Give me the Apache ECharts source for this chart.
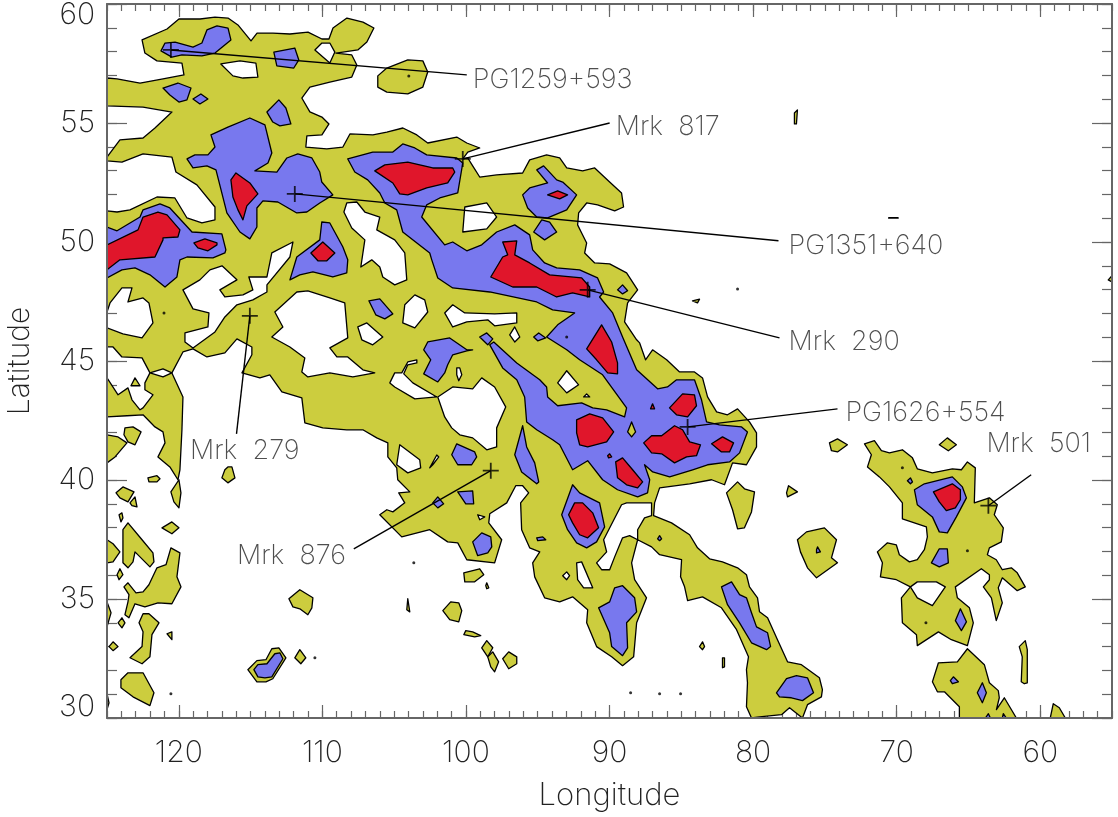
<!DOCTYPE html>
<html><head><meta charset="utf-8">
<script src="https://cdn.jsdelivr.net/npm/echarts@6/dist/echarts.min.js"></script>
<style>html,body{margin:0;background:#fff}#c{width:1118px;height:817px}</style></head>
<body><div id="c"></div>
<script>
const lonTicks=[120,110,100,90,80,70,60];
const latTicks=[30,35,40,45,50,55,60];
const yellowMain=[[119.99,59.37,118.52,59.37,117.48,59.45,116.57,59.41,115.88,59.12,114.97,58.45,114.55,58.78,113.44,58.78,112.26,58.74,111.0,58.82,110.03,58.53,109.54,58.53,109.26,58.99,108.29,59.41,107.17,59.24,106.41,58.99,106.9,58.4,107.53,58.07,108.57,57.98,109.06,57.94,107.95,57.86,107.6,57.44,107.95,56.93,109.48,56.72,110.87,56.51,111.43,56.05,110.87,55.47,110.03,55.25,109.54,54.96,110.03,54.5,111.08,54.46,111.15,53.99,109.69,53.91,108.57,53.99,108.08,54.54,106.48,54.5,105.51,54.62,104.39,54.79,103.42,54.5,102.66,54.16,100.64,54.41,99.94,54.16,99.04,53.95,99.87,53.78,100.22,53.49,99.87,53.53,99.53,53.2,99.04,52.73,97.86,52.82,96.05,52.9,95.56,53.45,94.38,53.66,93.47,53.53,92.98,53.11,91.87,52.99,91.03,53.11,89.99,52.52,89.16,52.06,89.02,51.47,89.64,51.31,90.83,51.56,91.59,51.64,92.15,51.22,92.22,50.72,91.94,50.38,91.59,49.96,91.73,49.54,91.03,49.12,89.99,49.08,88.81,48.7,88.04,47.99,88.74,47.44,88.95,46.64,88.11,45.89,87.9,45.76,87.49,45.05,87.0,45.47,86.02,45.05,85.12,44.54,84.08,44.54,83.52,44.29,83.17,43.49,82.54,42.86,81.78,42.74,81.08,42.99,80.25,42.44,79.76,41.98,79.76,41.39,80.46,40.64,81.43,40.72,81.99,39.8,82.89,40.01,84.42,39.84,86.51,39.67,86.86,39.04,86.93,38.5,85.68,38.2,84.42,37.7,83.87,37.15,83.03,36.69,82.13,36.56,81.08,36.31,80.46,36.02,80.25,35.51,79.69,35.05,79.55,34.46,78.99,34.21,78.3,33.29,77.6,32.36,76.63,32.24,75.38,31.69,75.17,31.19,75.24,30.89,76.21,30.56,76.56,30.0,77.46,30.43,78.02,30.14,79.55,30.05,80.11,30.0,80.46,30.47,80.39,31.48,80.46,32.03,80.32,32.57,81.15,33.71,82.2,34.63,83.52,35.09,84.56,34.93,84.77,35.51,85.05,35.93,84.98,36.65,86.51,36.86,87.07,37.19,88.04,37.49,88.46,36.52,88.25,35.81,87.42,35.05,88.11,34.0,88.32,32.57,89.09,32.2,89.85,32.57,90.9,33.0,91.59,34.0,91.52,34.55,92.57,35.09,93.47,34.88,94.52,35.05,95.21,35.93,95.35,36.52,94.86,36.98,95.56,37.15,96.12,37.91,96.19,39.04,95.63,39.46,96.05,39.76,96.53,39.76,97.16,39.04,98.34,38.58,98.41,38.2,97.51,37.49,98.0,36.52,99.94,36.65,100.57,37.36,101.27,37.4,102.52,37.91,104.47,37.61,106.0,38.54,105.51,38.75,105.09,38.66,104.26,39.04,104.68,39.46,103.91,39.5,104.75,40.01,104.82,40.51,105.44,40.97,105.44,41.56,106.21,41.77,107.18,42.11,108.3,42.11,109.97,42.19,111.22,42.4,111.43,43.45,112.82,43.7,113.66,44.42,114.35,44.29,115.6,44.5,114.91,45.26,114.91,45.59,115.95,45.93,116.79,45.34,118.04,45.17,119.01,45.51,119.71,45.38,120.48,44.5,119.71,43.49,119.78,42.11,119.92,40.43,120.06,40.01,120.62,40.55,121.45,40.97,120.96,41.56,121.1,42.02,121.66,42.23,122.49,42.74,123.61,42.7,125,42.65,125,44.29,124.23,43.58,123.54,43.87,123.26,43.37,122.7,42.95,122.49,43.03,121.8,43.58,122.36,43.79,122.36,44.08,122.01,44.5,122.56,45.13,123.96,45.17,124.58,45.59,125,45.59,125,46.39,123.89,46.14,122.56,45.97,121.8,46.6,122.08,47.44,122.49,47.65,123.54,47.48,123.26,48.07,123.96,48.07,124.79,47.44,125,47.06,125,51.31,124.3,51.26,123.4,51.35,121.52,51.89,120.27,51.85,119.43,51.01,118.39,50.8,117.48,50.93,117.48,51.47,118.74,52.4,120.2,52.94,120.48,53.57,122.49,53.7,123.96,53.36,125,53.41,125,53.57,124.1,54.29,122.49,54.37,121.66,54.79,120.48,55.46,122.49,55.67,125,55.72,125,56.89,124.3,56.85,122.7,56.68,121.1,56.85,119.64,57.02,119.78,57.52,121.52,57.61,122.36,57.94,122.56,58.49,120.82,58.95],
[72.24,41.52,71.55,41.65,71.06,41.23,70.5,41.14,69.6,41.27,68.9,40.93,68.56,40.47,67.51,40.3,66.12,40.47,65.49,40.43,65.07,40.76,64.52,40.51,64.59,39.04,63.54,39.25,62.99,38.96,63.2,38.54,62.57,37.99,62.71,37.4,63.54,37.15,63.68,36.86,63.06,36.65,62.64,36.23,62.01,36.31,61.6,36.1,61.04,35.51,61.6,35.35,62.64,35.89,62.92,35.47,62.64,34.84,63.06,34.09,63.4,35.05,63.96,35.51,63.54,35.81,63.54,36.02,64.1,36.27,65.91,35.51,65.77,35.05,64.93,34.63,64.66,34.0,65.07,33.04,66.19,33.29,67.09,33.62,68.56,33.04,68.62,33.5,69.6,34.0,69.67,35.05,69.04,35.51,70.02,35.81,71.13,35.93,70.99,36.52,71.34,36.98,70.64,37.36,70.02,37.27,69.81,36.86,69.11,36.56,68.56,36.65,68.07,37.07,67.86,37.61,67.93,38.03,69.6,38.37,69.6,39.04,70.5,39.71,71.2,40.13,72.03,40.55,71.76,41.06]];
const whiteHoles=[[117.07,57.48,115.74,57.61,114.63,57.52,114.49,56.93,115.53,56.89,116.23,56.98],
[110.03,58.36,109.48,58.36,109.13,57.98,109.48,57.52,110.52,58.07],
[108.3,51.64,107.6,51.68,107.04,51.26,106.0,51.05,106.21,50.51,104.96,50.09,104.26,49.54,104.12,48.41,104.96,48.2,105.79,48.53,106.0,48.95,106.56,49.25,107.32,48.95,107.04,50.09,107.95,50.59,108.5,51.26],
[100.08,51.47,98.55,51.64,97.86,51.05,98.55,50.55,100.22,50.42],
[117.83,48.83,116.99,49.0,115.95,48.41,117.14,47.99,116.79,47.69,115.53,47.78,114.84,47.99,115.12,48.53,113.86,48.53,113.52,49.54,112.05,50.0,112.26,49.37,113.86,48.2,113.86,47.9,114.84,47.57,115.95,47.36,116.79,46.85,117.48,46.22,119.01,45.55,119.57,45.8,119.57,46.18,117.97,46.43,117.9,47.02,119.01,47.19,119.71,47.99,118.53,48.41],
[113.31,47.06,111.78,47.9,111.01,47.95,109.48,47.65,108.44,47.44,108.23,45.97,109.48,45.55,108.99,45.17,108.23,45.17,107.18,44.63,106.35,44.5,107.88,44.33,109.48,44.5,111.01,44.33,111.43,44.54,111.22,45.13,112.26,45.59,113.52,46.01,112.75,46.43],
[104.26,47.36,103.56,47.78,102.87,47.57,102.66,47.06,103.56,46.39,104.4,46.6],
[107.53,46.43,106.9,46.6,105.79,46.01,106.49,45.68,107.25,45.89],
[105.3,44.08,104.96,44.5,104.47,44.5,104.05,44.96,103.42,45.05,103.42,44.92,104.05,44.84,104.33,44.46,103.7,44.08,102.03,43.49,103.56,43.41,104.96,43.91],
[101.96,43.49,100.92,43.91,99.53,43.83,98.9,44.29,98.0,43.91,97.23,43.07,97.86,42.19,97.86,41.39,98.55,41.27,99.53,41.77,100.43,41.9,100.99,42.19,101.48,42.65],
[100.64,44.71,100.43,44.71,100.29,44.42,100.5,44.17,100.64,44.42],
[101.48,47.02,100.92,47.36,100.08,47.02,98.0,46.98,96.46,47.02,96.46,46.6,98.0,46.48,98.48,46.73,99.94,46.64,100.92,46.43],
[96.95,46.1,96.6,46.43,96.25,46.01,96.6,45.8],
[93.61,44.08,92.98,44.59,92.15,44.0,92.98,43.66],
[91.8,43.49,91.59,43.62,91.38,43.49],
[99.18,38.54,98.69,38.45,99.04,38.33],
[93.26,35.98,92.98,36.14,92.78,35.98,92.98,35.81],
[92.29,36.52,91.94,36.56,91.17,35.47,91.8,35.47,92.22,35.81],
[87.07,39.04,87.07,38.5,87.56,38.41,88.04,37.91,88.04,37.49,88.6,37.66,89.09,37.57,89.64,36.77,89.99,36.23,90.55,36.23,90.9,36.52,90.2,36.98,90.41,37.49,89.16,38.96,88.81,39.04],
[122.01,44.5,121.1,44.67,120.48,44.5,121.1,44.33],
[104.61,41.48,103.22,40.85,103.15,40.51,104.05,40.3,104.82,40.64],
[69.04,35.51,68.56,35.72,67.23,35.72,66.61,35.51,67.51,34.72,68.56,35.05],
[102.52,40.51,102.03,41.05,101.89,40.97,102.31,40.64]];
const yellowIslands=[[106.14,56.98,105.51,57.31,104.05,57.65,103.0,57.61,102.66,57.14,103.0,56.51,104.05,56.22,105.51,56.3,106.14,56.51],
[123.75,42.19,123.19,42.23,122.63,42.02,123.05,41.48,123.54,41.6,123.82,41.9],
[125,41.9,124.23,41.81,123.61,41.56,124.44,40.97,125,40.72],
[123.05,44.29,123.33,43.96,122.7,43.96],
[122.15,40.09,121.52,40.18,121.31,40.05,121.52,39.92,122.08,39.92],
[124.37,39.46,123.89,39.71,123.12,39.5,123.54,39.08,124.1,39.25],
[123.4,39.04,123.05,39.29,122.91,38.87,123.26,38.92],
[124.16,38.54,123.96,38.62,123.89,38.41,124.03,38.24],
[119.99,40.01,120.55,39.5,120.34,39.08,119.99,38.83,119.85,39.46],
[121.17,37.99,120.48,38.24,119.99,37.99,120.48,37.74],
[125,37.49,124.58,37.32,124.1,36.98,124.58,36.56,125,36.52],
[123.89,37.91,123.54,38.2,122.56,37.49,121.8,36.94,121.73,36.56,122.01,36.35,123.05,36.98,123.19,36.56,123.54,36.31,123.89,36.52],
[124.3,36.02,124.1,36.27,123.89,36.02,124.16,35.81],
[123.82,35.51,123.54,35.68,122.98,35.26,122.49,35.3,122.08,35.6,121.52,36.31,120.89,36.44,120.55,37.15,119.92,36.94,120.13,35.93,119.85,35.51,120.48,34.8,121.45,34.84,122.36,34.67,123.05,34.8,123.47,34.21,123.75,34.34,123.54,34.88,123.47,35.18],
[125,34.88,124.72,34.42,125,33.83],
[124.23,34.0,123.96,34.21,123.75,34.0,123.96,33.79],
[122.49,34.38,122.08,34.38,121.38,34.0,121.87,33.5,122.01,32.57,122.56,32.28,123.4,32.53,122.56,33.0,122.49,33.62,122.77,34.0],
[120.82,33.54,120.48,33.62,120.48,33.29],
[124.86,33.0,124.58,33.2,124.23,33.0,124.58,32.83],
[124.03,31.61,123.54,31.9,122.49,31.9,121.73,31.06,122.01,30.52,123.19,30.89,124.03,31.27],
[125,31.02,124.86,30.64,125,30.35],
[112.33,35.01,111.57,35.39,110.66,35.05,110.73,34.63,111.01,34.34,111.57,34.59,112.05,34.67],
[115.19,32.03,114.56,32.41,113.93,32.45,113.52,32.91,113.03,32.95,112.54,32.53,113.45,31.65,113.93,31.52,114.56,31.52],
[111.92,32.53,111.57,32.87,111.15,32.53,111.5,32.28],
[116.58,40.55,116.3,40.55,116.09,40.09,116.58,39.88,117.0,40.09,116.79,40.43],
[100.15,36.1,99.04,36.27,98.76,36.02,99.39,35.72,100.08,35.72],
[98.62,35.56,98.55,35.68,98.41,35.47,98.55,35.43],
[101.61,34.51,101.06,34.88,100.5,34.84,100.29,34.51,100.5,34.04,101.13,34.13],
[100.15,33.5,100.01,33.67,99.53,33.62,98.97,33.46,99.39,33.41],
[98.9,32.95,98.55,33.25,98.13,32.95,98.48,32.57],
[98.48,32.57,98.13,32.78,97.72,32.36,98.0,31.94,98.27,32.15],
[97.44,32.49,97.02,32.78,96.46,32.57,96.46,32.28,97.02,32.07],
[104.12,34.55,104.05,35.01,103.91,34.46],
[74.68,41.56,74.12,41.73,73.43,41.48,74.12,41.18,74.54,41.23],
[81.85,39.46,81.08,39.92,80.6,39.63,79.9,39.5,80.11,38.66,80.6,37.99,81.08,37.95,81.43,38.75],
[77.67,39.46,77.53,39.76,76.91,39.5,77.6,39.29],
[76.91,37.49,76.28,37.82,75.03,37.99,74.19,37.49,74.54,36.73,74.12,36.52,75.58,35.89,76.21,36.31,76.7,36.98],
[83.73,33.0,83.52,33.2,83.38,33.0,83.52,32.87],
[82.13,32.53,81.99,32.53,81.99,32.15,82.13,32.11],
[67.03,41.48,66.47,41.77,65.84,41.48,66.4,41.23],
[65.07,32.91,63.89,32.24,63.54,31.48,62.92,31.15,62.85,30.85,63.05,30.35,62.5,30.85,61.66,30.0,65.63,30.0,65.63,30.47,66.67,31.1,67.16,31.1,67.51,31.52,67.09,32.32,65.77,32.36],
[61.46,33.0,61.04,33.25,60.9,32.87,60.9,31.48,61.11,31.44,61.32,31.52,61.25,32.57],
[59.3,30.0,59.09,30.6,58.67,30.43,58.25,30.0],
[77.12,55.42,76.91,55.55,76.98,54.96,77.12,54.96],
[55.26,48.41,55.0,48.58,55.0,48.32],
[84.22,47.53,83.73,47.6,83.87,47.44]];
const blueRegions=[[121.24,58.03,120.96,58.36,120.26,58.4,119.01,58.19,118.39,58.36,118.04,58.91,117.34,59.08,116.57,58.99,116.37,58.49,117.48,57.94,118.39,57.82,119.78,57.86,120.48,57.77],
[113.38,57.98,111.92,58.15,111.64,57.65,111.99,57.31,113.17,57.4],
[121.1,56.47,120.06,56.68,119.15,56.47,119.43,55.97,119.99,55.88,120.62,56.18],
[119.01,56.01,118.46,56.22,117.97,56.01,118.53,55.8],
[113.86,55.46,113.03,55.97,112.54,55.63,112.19,54.96,112.96,54.88,113.45,55.04],
[117.76,54.5,116.58,54.83,115.05,55.21,114.0,54.92,113.52,53.74,113.79,53.32,114.7,52.99,113.17,52.94,112.47,53.53,111.71,53.7,110.73,53.53,110.18,52.94,110.04,52.52,109.27,51.98,110.18,51.64,111.08,51.26,111.78,51.22,113.1,51.68,114.14,51.73,114.56,51.43,114.56,50.63,115.05,50.13,115.74,50.42,116.65,51.22,117.41,53.03,118.04,53.2,119.01,53.11,119.43,53.49,118.88,53.66,117.97,53.66,117.48,53.99],
[125,50.63,124.3,50.47,122.7,51.05,122.49,51.35,121.31,51.6,120.62,51.43,119.08,50.42,117.0,50.34,116.72,49.67,116.79,49.54,117.62,49.33,119.43,49.37,119.92,49.25,120.13,48.53,120.96,48.11,122.01,48.62,123.05,48.91,123.96,48.83,125,48.49],
[112.26,48.41,111.78,49.37,110.18,50.09,110.04,50.84,109.48,50.8,108.57,49.79,108.23,49.25,108.3,48.7,109.27,48.53,110.66,48.74,111.57,48.62],
[106.76,47.53,106.0,47.61,105.09,46.98,105.65,46.77,106.28,46.94],
[108.23,53.49,106.49,53.78,105.09,53.78,104.4,54.12,103.56,53.95,102.73,53.66,100.64,53.53,100.22,53.32,100.57,52.06,101.82,51.85,102.73,51.56,103.08,51.05,101.48,49.88,100.92,50.0,99.94,49.63,98.9,49.88,97.86,50.42,96.6,50.72,95.56,50.3,95.35,49.67,94.52,49.12,93.68,48.91,92.08,48.83,90.83,48.49,90.41,47.9,90.69,47.69,89.78,47.02,89.09,46.01,88.11,44.63,86.65,43.83,85.96,43.91,85.33,44.21,84.08,44.21,83.59,43.37,83.24,42.44,82.34,42.32,80.8,42.23,80.39,42.02,80.94,41.14,81.64,40.76,83.17,40.64,84.21,40.43,85.81,40.13,86.99,40.34,87.56,40.64,87.2,40.01,87.35,39.46,88.04,39.29,89.44,39.59,90.48,40.01,91.52,40.81,92.57,40.43,93.47,41.48,93.96,41.69,95.07,42.11,95.77,42.44,95.91,43.49,96.46,44.21,97.44,44.71,98.34,45.68,98.06,45.8,96.46,44.92,94.86,44.21,94.38,43.91,94.31,43.49,93.61,43.12,91.94,43.24,91.17,43.03,90.2,42.95,88.95,42.65,88.81,43.03,90.48,44.42,92.08,45.05,92.98,45.47,94.38,46.01,93.61,46.52,92.43,47.02,93.96,47.15,95.07,47.48,98.34,47.9,100.92,48.07,101.96,48.49,102.38,49.25,102.52,49.54,104.4,50.42,104.82,51.35,105.65,51.64,106.0,52.06,106.84,52.61,107.74,52.94],
[95.07,53.03,94.59,53.2,93.68,52.61,93.26,52.52,92.29,51.98,92.98,51.35,94.31,51.01,95.07,51.05,95.7,51.43,96.05,51.98,95.56,52.27,94.31,52.48],
[95.28,50.42,94.72,50.93,94.17,50.84,93.68,50.42,94.52,50.09],
[89.44,47.99,89.09,48.2,88.74,47.95,89.09,47.82],
[102.94,45.47,102.66,45.8,101.13,45.97,99.94,45.47,99.53,45.47,99.94,45.43,100.92,45.26,101.27,44.84,101.48,44.5,101.96,44.12,102.94,44.46,102.45,45.05],
[99.04,46.01,98.55,46.18,98.13,45.93,98.48,45.68],
[95.28,46.01,94.93,46.18,94.44,45.97,95.0,45.85],
[96.6,41.06,96.05,42.28,95.77,41.39,95.21,40.72,94.93,39.92,95.07,39.84,96.12,40.34],
[100.99,41.06,100.64,41.52,99.39,41.18,99.25,40.97,99.6,40.64,100.57,40.64],
[100.57,39.5,99.53,39.54,99.46,39.0,100.01,39.0],
[102.31,39.04,101.96,39.29,101.55,39.0,101.96,38.83],
[99.53,37.4,98.9,37.78,98.27,37.61,98.2,37.19,98.48,36.94,99.18,36.82],
[93.33,38.54,92.57,39.8,92.08,39.46,90.69,39.04,90.34,38.03,90.9,37.4,91.59,37.15,92.29,37.36,92.92,37.91],
[95.07,37.57,94.65,37.61,94.44,37.49,95.0,37.45],
[90.76,34.63,89.99,34.88,89.64,35.47,89.09,35.56,88.25,35.05,88.11,34.46,88.81,34.0,88.74,32.95,89.09,32.62,89.85,33.0,89.99,33.58],
[86.65,37.53,86.51,37.66,86.37,37.53,86.51,37.45],
[82.2,35.51,81.5,35.72,80.94,35.18,80.46,35.05,80.11,34.42,79.76,33.83,78.99,33.58,78.78,33.0,79.06,32.87,80.11,33.16,80.94,34.0,81.78,34.76],
[78.37,31.06,77.67,31.65,76.98,31.78,76.21,31.69,75.79,31.06,76.56,30.73,77.33,30.85,78.16,30.89],
[114.77,32.03,114.49,32.24,113.86,32.28,113.31,32.7,112.96,32.74,112.75,32.49,113.52,31.73,114.0,31.69,114.49,31.73],
[75.58,37.07,75.51,37.19,75.31,36.98,75.58,36.94],
[68.76,39.59,68.07,39.84,66.12,40.13,65.42,39.71,65.14,39.25,65.84,38.45,66.47,37.78,67.03,37.82,67.51,38.45,68.56,38.96],
[67.58,36.52,67.03,37.11,66.47,37.11,66.4,36.52,67.03,36.35],
[65.91,34.09,65.56,34.59,65.14,34.04,65.49,33.67],
[69.25,39.97,69.04,40.09,68.9,39.92,69.04,39.84],
[66.26,31.57,66.05,31.73,65.7,31.52,66.12,31.44],
[64.38,31.06,64.03,31.48,63.75,31.06,64.03,30.64],
[63.82,30.0,63.61,30.18,63.47,30.0],
[62.64,30.0,62.57,30.18,62.36,30.0]];
const yellowInBlue=[[88.46,42.44,88.18,42.02,88.46,41.81,88.74,42.02]];
const redRegions=[[116.37,52.61,116.02,52.9,115.05,52.48,114.49,52.02,115.26,51.52,115.53,50.93,115.88,51.35,116.23,51.89],
[125,49.88,122.84,50.51,122.49,51.05,121.45,51.26,120.82,51.14,119.92,50.51,120.06,50.21,121.1,50.17,121.1,50.09,121.66,49.37,124.1,49.25,125,48.83],
[118.95,49.96,118.18,50.13,117.34,49.96,117.34,49.88,117.97,49.63,118.67,49.75],
[110.8,49.54,109.97,50.0,109.13,49.54,109.69,49.21,110.31,49.21],
[106.35,52.99,105.65,53.24,104.05,53.36,102.31,53.11,100.92,53.11,100.78,52.94,101.27,52.48,102.73,52.27,104.05,51.98,104.61,52.02,105.09,52.48],
[94.31,51.98,93.61,52.15,92.92,51.98,93.47,51.81],
[98.27,48.53,97.44,49.37,97.09,49.46,97.44,50.0,96.46,50.05,96.6,49.46,95.56,49.12,94.17,48.62,91.94,48.49,91.38,48.11,91.38,47.69,92.57,47.86,93.68,47.69,95.07,48.11,96.74,48.11],
[91.59,45.51,90.55,46.52,89.85,45.8,89.44,44.92,89.44,44.46,90.13,44.5,90.9,45.05],
[87.14,42.99,87.0,43.2,86.86,42.99],
[92.29,42.53,91.38,42.78,90.48,42.61,89.71,42.02,90.2,41.6,91.52,41.39,92.08,41.48,92.29,41.98],
[90.13,41.02,89.99,41.1,89.85,40.97,90.06,40.93],
[89.57,40.76,89.09,40.93,88.39,40.43,87.69,39.92,88.04,39.67,88.81,39.8,89.44,40.09],
[87.62,41.56,87.07,41.86,86.37,41.86,85.47,42.28,84.91,42.11,84.42,41.6,83.66,41.48,83.94,41.02,84.63,40.97,85.47,40.72,86.37,41.1,87.07,41.14],
[85.82,43.03,84.91,43.62,84.08,43.58,83.94,43.12,84.56,42.65,85.33,42.74],
[82.89,41.52,82.13,41.81,81.36,41.56,81.64,41.18,82.2,41.18],
[92.85,38.54,92.43,39.04,91.87,39.04,91.17,38.62,90.76,37.99,91.52,37.57,92.08,37.7,92.57,38.2],
[67.44,39.5,66.12,39.84,65.56,39.59,65.56,39.17,65.91,38.83,66.54,38.71,67.03,39.08]];
const specks=[[103.98,56.98],[120.55,31.02],[110.52,32.53],[103.63,36.52],[88.53,31.06],[86.51,31.02],[85.05,31.02],[65.07,37.03],[67.96,34.0],[69.6,40.51],[81.08,48.03],[92.98,46.01],[121.03,47.02]];
const dash=[[70.54,51.01,69.91,51.01]];
const sourceNames=['PG1259+593','Mrk  817','PG1351+640','Mrk  290','PG1626+554','Mrk  501','Mrk  876','Mrk  279'];
const sourcePos=[[120.55,58.07],[100.22,53.49],[111.92,52.02],[91.52,47.99],[84.56,42.23],[63.61,38.92],[98.27,40.39],[115.05,46.9]];
const leaderEnd=[[99.94,57.02],[89.99,55.0],[78.23,50.05],[78.16,45.97],[74.12,42.99],[60.63,40.22],[107.81,37.11],[115.98,41.94]];
const labelPos=[[99.52,56.81],[89.57,54.83],[77.53,49.84],[77.53,45.8],[73.57,42.82],[63.75,41.52],[115.95,36.81],[119.22,41.23]];

const FONT='Inter', TXT='#222', FRAME='#666';
function layer(polys,color,z,width){
  return {type:'custom',z:z,clip:true,coordinateSystem:'cartesian2d',silent:true,animation:false,
    data:polys.map(p=>[p[0],p[1]]),
    renderItem:function(params,api){
      const p=polys[params.dataIndex],pts=[];
      for(let i=0;i<p.length;i+=2)pts.push(api.coord([p[i],p[i+1]]));
      return {type:'polygon',shape:{points:pts},style:{fill:color,stroke:'#000',lineWidth:width||1.3,lineJoin:'round'}};
    }};
}
const leaders=sourcePos.map((p,i)=>[p[0],p[1],leaderEnd[i][0],leaderEnd[i][1]]);
function xa(pos,major){
  const o={type:'value',position:pos,inverse:true,min:55,max:125,splitLine:{show:false},z:1,
    axisLine:{show:false}};
  if(major){
    o.axisTick={show:true,inside:true,length:13,customValues:lonTicks,lineStyle:{color:FRAME,width:1.2}};
    o.axisLabel={show:pos==='bottom',customValues:lonTicks,margin:20,fontFamily:FONT,fontWeight:200,fontSize:30,color:TXT};
    if(pos==='bottom'){o.name='Longitude';o.nameLocation='middle';o.nameGap=62;o.nameTextStyle={fontFamily:FONT,fontWeight:200,fontSize:31,color:TXT};}
  }else{
    o.interval=1;o.axisTick={show:true,inside:true,length:7,lineStyle:{color:FRAME,width:1.2}};o.axisLabel={show:false};
  }
  return o;
}
function ya(pos,major){
  const o={type:'value',position:pos,min:30,max:60,splitLine:{show:false},z:1,
    axisLine:{show:false}};
  if(major){
    o.axisTick={show:true,inside:true,length:20,customValues:latTicks,lineStyle:{color:FRAME,width:1.2}};
    o.axisLabel={show:pos==='left',customValues:latTicks,margin:12,fontFamily:FONT,fontWeight:200,fontSize:30,lineHeight:22,color:TXT,verticalAlignMinLabel:'bottom',verticalAlignMaxLabel:'top'};
    if(pos==='left'){o.name='Latitude';o.nameLocation='middle';o.nameGap=72;o.nameRotate=90;o.nameTextStyle={fontFamily:FONT,fontWeight:200,fontSize:30,color:TXT};}
  }else{
    o.interval=1;o.axisTick={show:true,inside:true,length:10,lineStyle:{color:FRAME,width:1.2}};o.axisLabel={show:false};
  }
  return o;
}
function frameX(pos){return {type:'value',position:pos,inverse:true,min:55,max:125,z:10,splitLine:{show:false},axisTick:{show:false},axisLabel:{show:false},axisLine:{show:true,onZero:false,lineStyle:{color:FRAME,width:2}}};}
function frameY(pos){return {type:'value',position:pos,min:30,max:60,z:10,splitLine:{show:false},axisTick:{show:false},axisLabel:{show:false},axisLine:{show:true,onZero:false,lineStyle:{color:FRAME,width:2}}};}
const chart=echarts.init(document.getElementById('c'),null,{renderer:'canvas'});
chart.setOption({
  animation:false,backgroundColor:'#fff',
  grid:{left:107,right:6,top:4,bottom:99,outerBoundsMode:'none',containLabel:false},
  xAxis:[xa('bottom',false),xa('bottom',true),xa('top',false),xa('top',true),frameX('bottom'),frameX('top')],
  yAxis:[ya('left',false),ya('left',true),ya('right',false),ya('right',true),frameY('left'),frameY('right')],
  series:[
    layer(yellowMain,'#CCCD3E',2),
    layer(whiteHoles,'#fff',3),
    layer(yellowIslands,'#CCCD3E',4),
    layer(blueRegions,'#7878EE',5),
    layer(yellowInBlue,'#CCCD3E',6),
    layer(redRegions,'#E0162B',7),
    layer(dash,'#000',8,1.8),
    {type:'scatter',z:8,data:specks,symbol:'circle',symbolSize:3,itemStyle:{color:'#000'},silent:true},
    {type:'custom',z:9,silent:true,clip:false,data:leaders,encode:{x:0,y:1},
      renderItem:function(params,api){
        const a=api.coord([api.value(0),api.value(1)]),b=api.coord([api.value(2),api.value(3)]);
        return {type:'line',shape:{x1:a[0],y1:a[1],x2:b[0],y2:b[1]},style:{stroke:'#000',lineWidth:1.4}};
      }},
    {type:'scatter',z:9,silent:true,data:sourcePos,symbol:'path://M7.1,0H8.9V7.1H16V8.9H8.9V16H7.1V8.9H0V7.1H7.1Z',symbolSize:16,itemStyle:{color:'#000'}},
    {type:'scatter',z:9,silent:true,symbolSize:0,clip:false,
      data:labelPos.map((p,i)=>({value:p,name:sourceNames[i]})),
      label:{show:true,position:'right',distance:0,formatter:'{b}',fontFamily:FONT,fontWeight:200,fontSize:27,color:TXT}}
  ]
});
</script></body></html>
